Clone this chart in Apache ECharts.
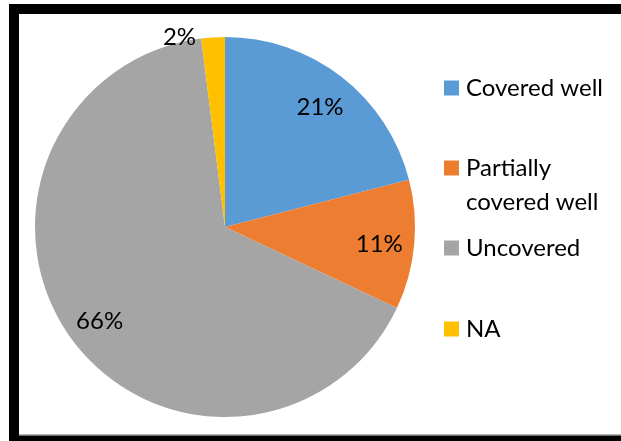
<!DOCTYPE html>
<html>
<head>
<meta charset="utf-8">
<script src="https://cdn.jsdelivr.net/npm/echarts@6/dist/echarts.min.js"></script>
<style>
  html, body { margin: 0; padding: 0; background: #fff; }
  #chart { width: 621px; height: 441px; }
</style>
</head>
<body>
<div id="chart"></div>
<script>
// Survey result: how well each site was covered (percent of all sites)
const categories = ['Covered well', 'Partially covered well', 'Uncovered', 'NA'];
const shares = [21, 11, 66, 2];
const colors = ['#5B9BD5', '#ED7D31', '#A5A5A5', '#FFC000'];

const FONT = 'Lato, "Open Sans", sans-serif';
const CENTER = [225, 227];
const R = 190;

const chart = echarts.init(document.getElementById('chart'), null, { renderer: 'canvas' });

const sliceData = categories.map((name, i) => ({
  name,
  value: shares[i],
  itemStyle: { color: colors[i] }
}));

// Label ring: a transparent ring whose midline sits at 0.8 R, so "inside" labels land there
const labelData = categories.map((name, i) => {
  const item = { name, value: shares[i] };
  if (shares[i] < 5) {
    item.label = { position: 'outside' };
    item.labelLine = { show: false, length: 0, length2: 0 };
  }
  return item;
});

// One legend block per category so the wrapped entry keeps its marker on the first line.
// The wrapped entry gets a blank leading line so its first text line is centred on the marker.
const legendCenters = [88, 168, 248, 329];
const legends = categories.map((name, i) => {
  const wrapped = name === 'Partially covered well';
  return {
    data: [name],
    orient: 'vertical',
    left: 444,
    top: wrapped ? legendCenters[i] - 51 : legendCenters[i] - 17,
    padding: 0,
    itemWidth: 15,
    itemHeight: 15,
    icon: 'rect',
    selectedMode: false,
    formatter: n => n === 'Partially covered well' ? '\nPartially\ncovered well' : n,
    textStyle: {
      fontFamily: FONT,
      fontSize: 24,
      color: '#000',
      lineHeight: 34,
      padding: [0, 0, 0, 2]
    }
  };
});

chart.setOption({
  animation: false,
  backgroundColor: '#fff',
  legend: legends,
  graphic: [
    {
      type: 'rect',
      silent: true,
      shape: { x: 14, y: 9, width: 620, height: 431 },
      style: { fill: 'none', stroke: '#000', lineWidth: 10 }
    },
    {
      type: 'line',
      silent: true,
      shape: { x1: 19, y1: 435, x2: 621, y2: 435 },
      style: { stroke: '#9a9a9a', lineWidth: 1.5 }
    }
  ],
  series: [
    {
      type: 'pie',
      center: CENTER,
      radius: R,
      startAngle: 90,
      clockwise: true,
      silent: true,
      label: { show: false },
      labelLine: { show: false },
      itemStyle: { borderWidth: 0 },
      data: sliceData
    },
    {
      type: 'pie',
      center: CENTER,
      radius: [R * 0.6, R],
      startAngle: 90,
      clockwise: true,
      silent: true,
      avoidLabelOverlap: false,
      itemStyle: { color: 'rgba(0,0,0,0)', borderWidth: 0 },
      label: {
        show: true,
        position: 'inside',
        formatter: '{c}%',
        fontFamily: FONT,
        fontSize: 24,
        color: '#000'
      },
      labelLine: { show: false },
      // small outside labels are nudged left, clear of the thin slice
      labelLayout: p => (shares[p.dataIndex] < 5 ? { dx: -12 } : { dy: 3 }),
      data: labelData
    }
  ]
});
</script>
</body>
</html>
